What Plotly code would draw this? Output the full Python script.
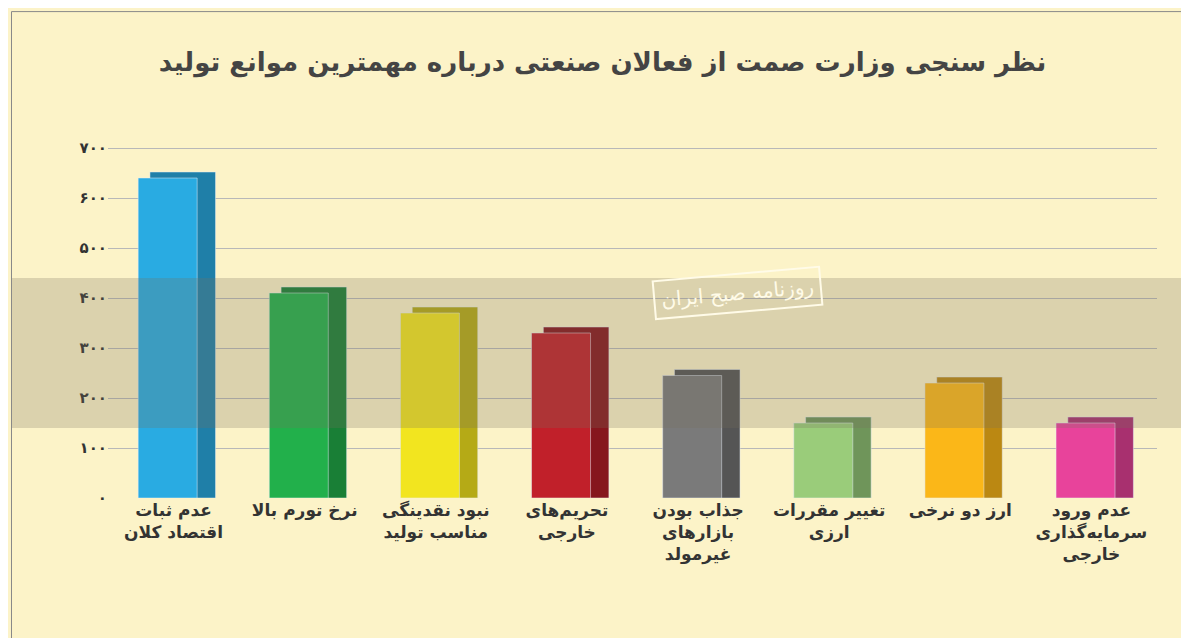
import plotly.graph_objects as go

categories = ["<b>عدم ثبات<br>اقتصاد کلان</b>", "<b>نرخ تورم بالا</b>", "<b>نبود نقدینگی<br>مناسب تولید</b>",
              "<b>تحریم‌های<br>خارجی</b>", "<b>جذاب بودن<br>بازارهای<br>غیرمولد</b>", "<b>تغییر مقررات<br>ارزی</b>",
              "<b>ارز دو نرخی</b>", "<b>عدم ورود<br>سرمایه‌گذاری<br>خارجی</b>"]
values = [640, 410, 370, 330, 245, 150, 230, 150]
colors = ["#29abe2", "#22b04b", "#f2e51f", "#c1202a", "#7a7a7a", "#9acc7a", "#fbb718", "#e8439b"]
sides = ["#1f7fa8", "#197f36", "#b5aa16", "#86161d", "#555555", "#6f955a", "#bb8812", "#a8306f"]
tick_vals = [0, 100, 200, 300, 400, 500, 600, 700]
tick_text = ["<b>۰</b>", "<b>۱۰۰</b>", "<b>۲۰۰</b>", "<b>۳۰۰</b>", "<b>۴۰۰</b>", "<b>۵۰۰</b>", "<b>۶۰۰</b>", "<b>۷۰۰</b>"]

font = "DejaVu Sans"
fig = go.Figure()
# side face for a pseudo-3D look
fig.add_trace(go.Bar(x=categories, y=[v + 12 for v in values], marker_color=sides,
                     width=0.5, offset=-0.18, hoverinfo="skip"))
fig.add_trace(go.Bar(x=categories, y=values, marker_color=colors, width=0.45, offset=-0.27))

fig.add_annotation(text="روزنامه صبح ایران", xref="paper", yref="paper", x=0.6, y=0.54,
                   showarrow=False, font=dict(family=font, size=20, color="#fffbe8"),
                   bordercolor="#fffbe8", borderwidth=2, borderpad=6, textangle=-5)

fig.update_layout(
    width=1189, height=638,
    paper_bgcolor="#fcf3c8", plot_bgcolor="#fcf3c8",
    title=dict(text="<b>نظر سنجی وزارت صمت از فعالان صنعتی درباره مهمترین موانع تولید</b>",
               x=0.5, y=0.93, font=dict(family=font, size=26, color="#444")),
    margin=dict(l=100, r=40, t=110, b=148),
    showlegend=False, bargap=0.5,
    xaxis=dict(tickfont=dict(family=font, size=17, color="#333"), showline=False),
    yaxis=dict(range=[0, 760], tickvals=tick_vals, ticktext=tick_text,
               tickfont=dict(family=font, size=15, color="#333"),
               gridcolor="#b8b8b8", zeroline=False),
    shapes=[
        dict(type="rect", xref="paper", yref="paper", x0=-0.092, x1=1.034, y0=0.184, y1=0.579,
             fillcolor="rgba(120,110,90,0.25)", line_width=0, layer="above"),
        dict(type="rect", xref="paper", yref="paper", x0=-0.092, x1=1.034, y0=-0.379, y1=1.28,
             fillcolor="rgba(0,0,0,0)", line=dict(color="#888", width=1)),
    ],
)
fig.write_html("out.html")
